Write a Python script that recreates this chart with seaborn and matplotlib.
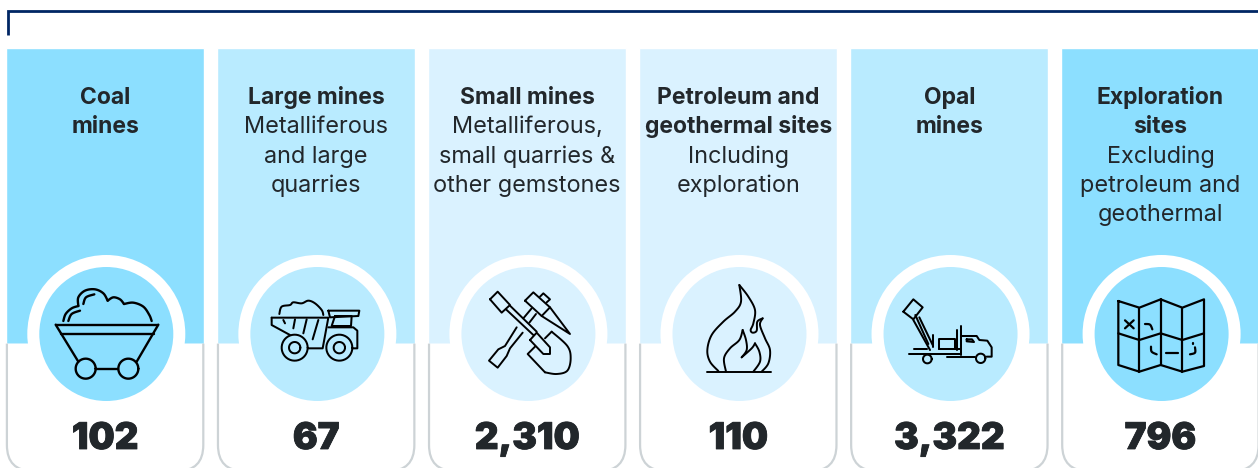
import numpy as np
import pandas as pd
import matplotlib
matplotlib.use("Agg")
import matplotlib.pyplot as plt
import matplotlib.patheffects as pe
from matplotlib.patches import Circle, PathPatch
from matplotlib.path import Path
import seaborn as sns

# Data
sites = ["Coal", "Large", "Small", "Petroleum", "Opal", "Exploration"]
headings = [
    ["Coal", "mines"],
    ["Large mines"],
    ["Small mines"],
    ["Petroleum and", "geothermal sites"],
    ["Opal", "mines"],
    ["Exploration", "sites"],
]
details = [
    [],
    ["Metalliferous", "and large", "quarries"],
    ["Metalliferous,", "small quarries &", "other gemstones"],
    ["Including", "exploration"],
    [],
    ["Excluding", "petroleum and", "geothermal"],
]
counts = ["102", "67", "2,310", "110", "3,322", "796"]
panel_colors = ["#8CDFFF", "#B9EBFF", "#DAF2FF", "#DAF2FF", "#B9EBFF", "#8CDFFF"]

INK = "#22272B"
NAVY = "#002664"
EDGE = "#CDD3D6"
W, H = 1258, 468
PITCH = 211.06
CARD_W = 198.0
FIRST_CX = 105.1
PANEL_TOP, PANEL_BOTTOM = 48.3, 343.6
CIRCLE_Y = 334
FONT = "Inter"

sns.set_theme(style="white")
plt.rcParams["font.family"] = [FONT, "DejaVu Sans"]

fig = plt.figure(figsize=(W / 100, H / 100), dpi=100, facecolor="white")

# coloured header panels, one bar per site
ax_bars = fig.add_axes([0, 0, 1, 1])
panels = pd.DataFrame({"site": sites, "height": PANEL_BOTTOM - PANEL_TOP})
sns.barplot(
    data=panels, x="site", y="height", hue="site",
    palette=dict(zip(sites, panel_colors)), width=CARD_W / PITCH,
    bottom=PANEL_TOP, saturation=1, legend=False, ax=ax_bars,
)
ax_bars.set_xlim(-FIRST_CX / PITCH, (W - FIRST_CX) / PITCH)
ax_bars.set_ylim(H, 0)
ax_bars.axis("off")

# everything else goes on an overlay in pixel coordinates
ax = fig.add_axes([0, 0, 1, 1], facecolor="none")
ax.set_xlim(0, W)
ax.set_ylim(H, 0)
ax.axis("off")


def smooth(pts, n=12):
    """Catmull-Rom curve through a few hand picked points."""
    p = np.array(pts, dtype=float)
    p = np.vstack([p[0], p, p[-1]])
    out = []
    for i in range(1, len(p) - 2):
        for t in np.linspace(0, 1, n, endpoint=False):
            a = 2 * p[i] + (p[i + 1] - p[i - 1]) * t
            b = (2 * p[i - 1] - 5 * p[i] + 4 * p[i + 1] - p[i + 2]) * t ** 2
            c = (3 * p[i] - p[i - 1] - 3 * p[i + 1] + p[i + 2]) * t ** 3
            out.append(0.5 * (a + b + c))
    out.append(p[-2])
    return np.array(out)


def ring(cx, cy, r, n=40):
    t = np.linspace(0, 2 * np.pi, n)
    return np.column_stack([cx + r * np.cos(t), cy + r * np.sin(t)])


def draw(lines, ox, oy, lw=1.5):
    # icon sketches are noted in 3x crop coordinates
    for line in lines:
        arr = np.asarray(line, dtype=float) / 3.0 + [ox, oy]
        ax.plot(arr[:, 0], arr[:, 1], color="black", lw=lw, zorder=6,
                solid_capstyle="round", solid_joinstyle="round")


coal = [
    smooth([(190, 243), (197, 222), (215, 205), (235, 198)]),
    smooth([(235, 198), (235, 172), (255, 152), (285, 148), (310, 160), (323, 182)]),
    smooth([(323, 182), (340, 172), (360, 178), (372, 192)]),
    smooth([(372, 192), (400, 188), (430, 200), (448, 225), (455, 243)]),
    smooth([(205, 243), (215, 222), (240, 212)]),
    smooth([(250, 192), (258, 172), (283, 163)]),
    [(167, 254), (475, 254)],
    [(183, 282), (462, 282)],
    [(167, 254), (235, 365)],
    [(475, 254), (410, 365)],
    ring(257, 386, 30),
    ring(385, 386, 30),
    [(287, 386), (355, 386)],
]
truck = [
    smooth([(838, 222), (845, 200), (870, 195), (880, 187), (905, 190), (925, 182), (945, 190),
            (965, 210), (970, 225)]),
    [(815, 233), (985, 233), (968, 325), (925, 325)],
    [(815, 233), (815, 255), (870, 285)],
    [(985, 212), (1078, 212), (1075, 228), (990, 232), (985, 212)],
    [(1005, 228), (1055, 228), (1053, 258), (995, 258), (1005, 228)],
    [(985, 262), (1060, 262), (1072, 272), (1072, 325), (1058, 325)],
    ring(884, 323, 39), ring(884, 323, 17),
    ring(1018, 323, 39), ring(1018, 323, 17),
    [(850, 240), (855, 250)],
    [(885, 238), (880, 265)],
    [(920, 238), (910, 280)],
    [(955, 240), (938, 298)],
]
tools = [
    [(180, 178), (203, 155), (240, 195), (215, 218), (180, 178)],
    [(228, 208), (310, 285)],
    [(240, 197), (320, 275)],
    [(300, 300), (320, 278), (360, 322), (360, 342), (340, 342), (300, 300)],
    smooth([(365, 275), (412, 318), (422, 355), (412, 392), (380, 402), (345, 397)]),
    [(345, 397), (293, 342), (315, 320)],
    [(365, 275), (345, 295)],
    [(285, 182), (310, 157), (360, 202), (335, 228), (285, 182)],
    [(330, 170), (340, 160), (360, 178), (350, 187)],
    [(360, 202), (420, 282), (335, 228)],
    [(305, 205), (280, 235)],
    [(318, 222), (298, 248)],
    [(260, 262), (225, 318), (205, 328), (177, 362), (203, 383), (230, 348), (240, 325), (278, 278)],
]
flame = [
    smooth([(865, 393), (840, 365), (832, 330), (845, 285), (880, 245), (915, 215), (933, 185), (928, 135)]),
    smooth([(928, 135), (955, 170), (975, 210), (970, 250), (962, 270), (968, 278), (980, 272), (982, 245), (998, 235)]),
    smooth([(998, 235), (990, 255), (1005, 295), (1020, 330), (1015, 370), (995, 395)]),
    smooth([(888, 395), (882, 355), (900, 325), (928, 300), (938, 270)]),
    smooth([(938, 270), (948, 300), (950, 330), (935, 352)]),
    smooth([(935, 352), (965, 325), (975, 310)]),
    smooth([(975, 310), (988, 335), (990, 365), (970, 395)]),
    [(830, 397), (1022, 397)],
]
drill = [
    [(160, 215), (190, 178), (218, 202), (190, 238), (160, 215)],
    [(190, 240), (240, 330)],
    [(208, 232), (248, 315)],
    [(196, 225), (235, 312)],
    [(178, 343), (330, 343)],
    [(192, 328), (232, 328)],
    [(292, 352), (375, 352)],
    [(250, 285), (250, 320)],
    [(268, 328), (268, 297), (315, 297), (315, 328)],
    [(268, 328), (330, 328)],
    [(333, 258), (333, 345)],
    [(322, 270), (322, 330)],
    [(333, 288), (380, 288), (388, 300), (412, 302), (425, 322), (425, 350), (410, 350)],
    [(350, 298), (366, 298), (372, 306), (350, 304), (350, 298)],
    ring(232, 357, 13),
    ring(392, 355, 14),
]
map_icon = [
    [(805, 183), (868, 203), (932, 178), (997, 203), (1062, 178), (1062, 378), (997, 395),
     (932, 375), (868, 395), (805, 375), (805, 183)],
    [(868, 203), (868, 395)],
    [(932, 178), (932, 375)],
    [(997, 203), (997, 395)],
    [(805, 280), (868, 300), (932, 280), (997, 300), (1062, 280)],
    [(825, 241), (851, 265)],
    [(851, 241), (825, 265)],
    smooth([(885, 252), (900, 254), (907, 268)]),
    smooth([(903, 320), (905, 335), (920, 343)]),
    [(947, 340), (985, 340)],
    smooth([(1020, 343), (1035, 338), (1035, 322)]),
    [(1030, 309), (1030, 311)],
]
icons = [
    (coal, 0, 240, 1.7), (truck, 0, 240, 1.45), (tools, 430, 240, 1.4),
    (flame, 430, 240, 1.4), (drill, 850, 240, 1.45), (map_icon, 850, 240, 1.6),
]

for i, site in enumerate(sites):
    cx = FIRST_CX + i * PITCH
    left, right = cx - CARD_W / 2 + 0.8, cx + CARD_W / 2 - 0.8

    # grey outline below the panel, rounded corners run off the bottom
    r = 26
    verts = [(left, PANEL_BOTTOM), (left, 471 - r), (left, 471), (left + r, 471),
             (right - r, 471), (right, 471), (right, 471 - r), (right, PANEL_BOTTOM)]
    codes = [Path.MOVETO, Path.LINETO, Path.CURVE3, Path.CURVE3,
             Path.LINETO, Path.CURVE3, Path.CURVE3, Path.LINETO]
    ax.add_patch(PathPatch(Path(verts, codes), fc="white", ec=EDGE, lw=1.6,
                           clip_on=True, zorder=2, capstyle="butt"))

    # white halo and coloured disc behind the icon
    ax.add_patch(Circle((cx + 1.2, CIRCLE_Y), 79, fc="white", ec="none", zorder=3))
    ax.add_patch(Circle((cx + 1.2, CIRCLE_Y), 67, fc=panel_colors[i], ec="none", zorder=4))

    # heading and detail lines, placed on their baselines
    y = 104.0
    for line in headings[i]:
        ax.text(cx, y, line, ha="center", va="baseline", fontsize=16.5, fontweight="bold",
                color=INK, zorder=7)
        y += 29.25
    for line in details[i]:
        ax.text(cx, y, line, ha="center", va="baseline", fontsize=16.9, color=INK, zorder=7)
        y += 29.25

    # count
    ax.text(cx, 449, counts[i], ha="center", va="baseline", fontsize=26.5, fontweight="black",
            color=INK, zorder=7, path_effects=[pe.withStroke(linewidth=0.6, foreground=INK)])

    draw(icons[i][0], icons[i][1], icons[i][2], lw=icons[i][3])

# navy bracket across the top
ax.plot([8.3, 8.3, W], [35, 11.4, 11.4], color=NAVY, lw=2.0, zorder=5,
        solid_capstyle="butt", solid_joinstyle="miter")

fig.savefig("out.png", dpi=100)
